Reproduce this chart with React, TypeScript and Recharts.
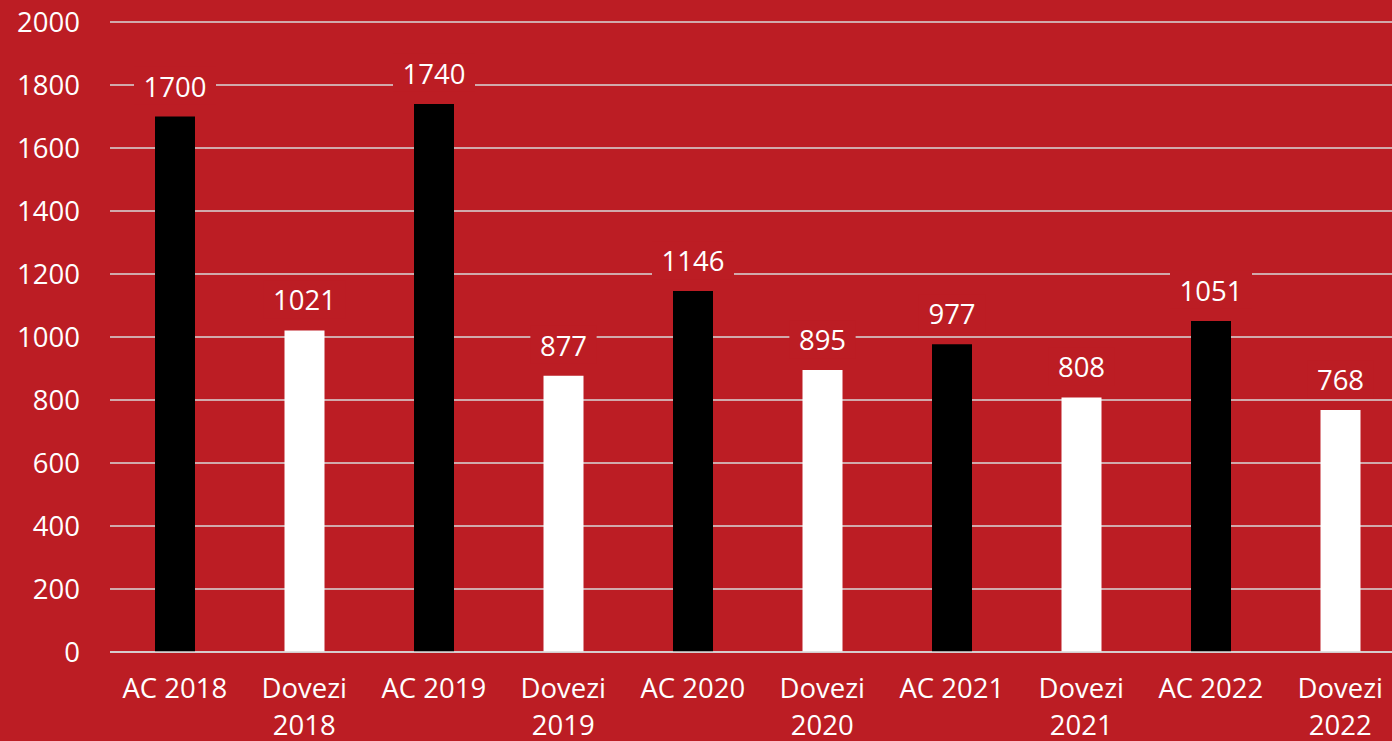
import React from "react";
import { BarChart, Bar, XAxis, YAxis, CartesianGrid, Cell, LabelList } from "recharts";

const categories = ["AC 2018", "Dovezi 2018", "AC 2019", "Dovezi 2019", "AC 2020", "Dovezi 2020", "AC 2021", "Dovezi 2021", "AC 2022", "Dovezi 2022"];
const values = [1700, 1021, 1740, 877, 1146, 895, 977, 808, 1051, 768];
const barColors = ["#000000", "#FFFFFF", "#000000", "#FFFFFF", "#000000", "#FFFFFF", "#000000", "#FFFFFF", "#000000", "#FFFFFF"];
const yTicks = [0, 200, 400, 600, 800, 1000, 1200, 1400, 1600, 1800, 2000];

const data = categories.map((c, i) => ({ name: c, value: values[i] }));

const BG = "#BC1D24";
const FONT = "'Open Sans', sans-serif";
const FS = 27.5;

const XTick = (props: any) => {
  const { x, y, payload } = props;
  const label: string = payload.value;
  const sp = label.indexOf(" ");
  const lines = label.startsWith("Dovezi") ? [label.slice(0, sp), label.slice(sp + 1)] : [label];
  return (
    <g>
      {lines.map((l, i) => (
        <text key={i} x={x} y={y + 38 + i * 37} textAnchor="middle" fill="#FFFFFF" fontFamily={FONT} fontSize={FS}>
          {l}
        </text>
      ))}
    </g>
  );
};

const YTick = (props: any) => {
  const { x, y, payload } = props;
  return (
    <text x={x} y={y + 10} textAnchor="end" fill="#FFFFFF" fontFamily={FONT} fontSize={FS}>
      {payload.value}
    </text>
  );
};

const ValueLabel = (props: any) => {
  const { x, y, width, value } = props;
  const cx = x + width / 2;
  const s = String(value);
  const w = s.length * 15.75 + 19;
  return (
    <g>
      <rect x={cx - w / 2} y={y - 50} width={w} height={38} fill={BG} />
      <text x={cx} y={y - 20} textAnchor="middle" fill="#FFFFFF" fontFamily={FONT} fontSize={FS}>
        {s}
      </text>
    </g>
  );
};

export default function App() {
  return (
    <div style={{ position: "absolute", left: 0, top: 0, width: 1392, height: 741, overflow: "hidden", background: BG }}>
      <BarChart width={1405} height={741} data={data} margin={{ top: 22, right: 0, bottom: 0, left: 0 }}>
        <CartesianGrid vertical={false} stroke="#D9D9D9" strokeWidth={1.5} />
        <XAxis dataKey="name" axisLine={{ stroke: "#D9D9D9", strokeWidth: 1.5 }} tickLine={false} height={89} tick={<XTick />} interval={0} />
        <YAxis domain={[0, 2000]} ticks={yTicks} axisLine={false} tickLine={false} width={110} tick={<YTick />} tickSize={0} tickMargin={30} interval={0} />
        <Bar dataKey="value" barSize={40} isAnimationActive={false}>
          {data.map((d, i) => (
            <Cell key={d.name} fill={barColors[i]} />
          ))}
          <LabelList dataKey="value" content={<ValueLabel />} />
        </Bar>
      </BarChart>
    </div>
  );
}
